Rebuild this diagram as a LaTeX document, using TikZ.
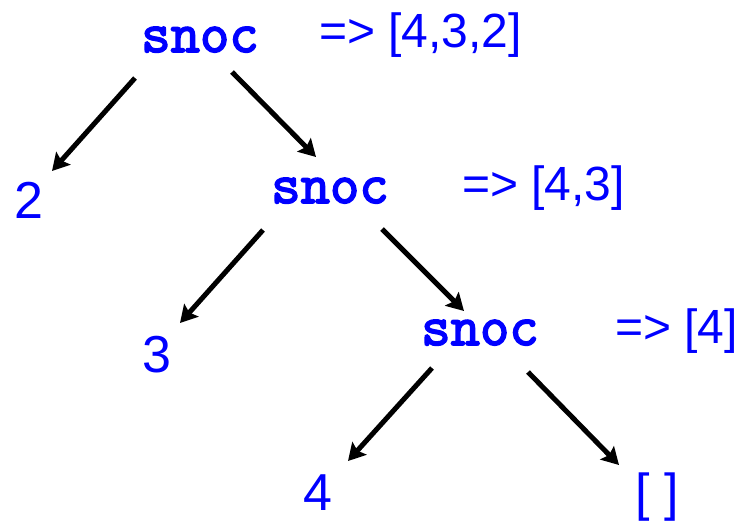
\documentclass[tikz,border=0pt]{standalone}
\usepackage{fontspec}
\setmainfont{Liberation Sans}
\newfontfamily\callfont{Latin Modern Mono}[FakeBold=3]
\usetikzlibrary{arrows.meta}

\begin{document}
\begin{tikzpicture}[
    x=1pt, y=-1pt,
    call/.style={text=blue, inner sep=0pt, anchor=base, font=\fontsize{57}{66}\selectfont\callfont\bfseries},
    leaf/.style={text=blue, inner sep=0pt, anchor=base, font=\fontsize{52}{62}\selectfont},
    result/.style={text=blue, inner sep=0pt, anchor=base west, font=\fontsize{48}{57}\selectfont},
    edge/.style={-{Stealth[length=17pt, width=19pt, inset=3pt]}, line width=5pt}
]
\useasboundingbox (0,0) rectangle (744,520);
\node[call] (snoc1) at (200,52) {snoc};
\node[result] (res1) at (319,47) {=> [4,3,2]};
\node[leaf] (two) at (29,218) {2};
\node[call] (snoc2) at (330,203) {snoc};
\node[result] (res2) at (462,200) {=> [4,3]};
\node[leaf] (three) at (157,372) {3};
\node[call] (snoc3) at (480,345) {snoc};
\node[result] (res3) at (615,343) {=> [4]};
\node[leaf] (four) at (318,510) {4};
\node[leaf] (nil) at (657,510) {[ ]};
\draw[edge] ([shift={(-65,26)}]snoc1.base) -- ([shift={(23,-47)}]two.base);
\draw[edge] ([shift={(32,20)}]snoc1.base) -- ([shift={(-14,-46)}]snoc2.base);
\draw[edge] ([shift={(-67,27)}]snoc2.base) -- ([shift={(23,-49)}]three.base);
\draw[edge] ([shift={(52,26)}]snoc2.base) -- ([shift={(-16,-34)}]snoc3.base);
\draw[edge] ([shift={(-48,23)}]snoc3.base) -- ([shift={(30,-49)}]four.base);
\draw[edge] ([shift={(48,27)}]snoc3.base) -- ([shift={(-38,-45)}]nil.base);
\end{tikzpicture}
\end{document}
